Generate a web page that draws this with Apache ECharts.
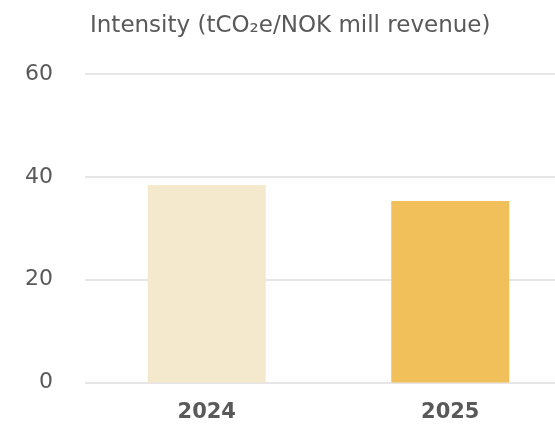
<!DOCTYPE html>
<html>
<head>
<meta charset="utf-8">
<script src="https://cdn.jsdelivr.net/npm/echarts@6/dist/echarts.min.js"></script>
<style>
  html, body { margin: 0; padding: 0; background: #ffffff; }
  #chart { width: 555px; height: 427px; }
</style>
</head>
<body>
<div id="chart"></div>
<script>
// Emission intensity per year
const years = ['2024', '2025'];
const intensity = [38.4, 35.3];
const barColors = ['#F4E9CC', '#F1C05A'];
const yTicks = { min: 0, max: 60, interval: 20 };
const titleText = 'Intensity (tCO\u2082e/NOK mill revenue)';

const FONT = '"DejaVu Sans", "Noto Sans", sans-serif';
const chart = echarts.init(document.getElementById('chart'), null, { renderer: 'canvas' });

chart.setOption({
  animation: false,
  backgroundColor: '#ffffff',
  title: {
    text: titleText,
    left: 85,
    top: 10,
    textStyle: { fontFamily: FONT, fontSize: 23, fontWeight: 'normal', color: '#595959' }
  },
  grid: { left: 85, top: 74, width: 487, bottom: 44.5, outerBoundsMode: 'none', containLabel: false },
  xAxis: {
    type: 'category',
    data: years,
    axisLine: { show: false },
    axisTick: { show: false },
    axisLabel: { fontFamily: FONT, fontSize: 21, fontWeight: 'bold', color: '#595959', margin: 20 }
  },
  yAxis: {
    type: 'value',
    min: yTicks.min,
    max: yTicks.max,
    interval: yTicks.interval,
    axisLine: { show: false },
    axisTick: { show: false },
    axisLabel: { fontFamily: FONT, fontSize: 22, color: '#595959', margin: 32 },
    splitLine: { lineStyle: { color: '#E6E6E6', width: 2 } }
  },
  series: [{
    type: 'bar',
    barWidth: 118,
    data: intensity.map((v, i) => ({ value: v, itemStyle: { color: barColors[i] } }))
  }]
});
</script>
</body>
</html>
